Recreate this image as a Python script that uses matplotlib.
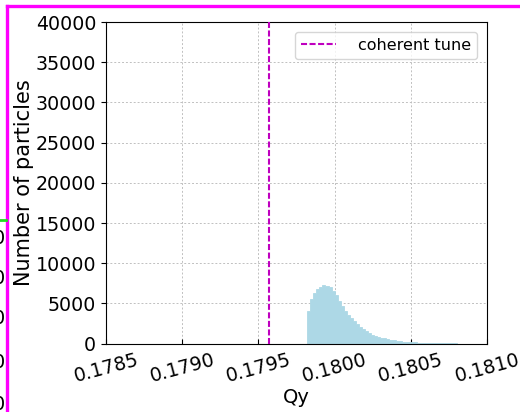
import matplotlib
matplotlib.use("Agg")
import matplotlib.pyplot as plt
from matplotlib.lines import Line2D
import numpy as np

# Histogram of vertical tune Qy: bin edges and particle counts per bin
bin_start = 0.17982
bin_width = 0.00002
counts = [
    4000, 5500, 6300, 6800, 7100, 7250, 7200, 7000, 6550, 6000,
    5250, 4650, 4100, 3600, 3150, 2800, 2400, 2100, 1800, 1550,
    1300, 1130, 980, 860, 750, 650, 550, 470, 400, 340,
    290, 250, 215, 185, 160, 140, 120, 105, 92, 80,
    70, 62, 55, 48, 42, 36, 30, 24, 18,
]
coherent_tune = 0.179568

x_ticks = [0.1785, 0.1790, 0.1795, 0.1800, 0.1805, 0.1810]
y_ticks = [0, 5000, 10000, 15000, 20000, 25000, 30000, 35000, 40000]

edges = bin_start + bin_width * np.arange(len(counts) + 1)

fig = plt.figure(figsize=(5.2, 4.12), dpi=100)
ax = fig.add_axes([0.204, 0.166, 0.7325, 0.7806])

ax.stairs(counts, edges, fill=True, facecolor="lightblue",
          edgecolor="lightblue", linewidth=0.6, zorder=2)
ax.axvline(coherent_tune, color="m", linestyle=(0, (2.9, 1.2)), linewidth=1.5,
           label="coherent tune", zorder=3)

ax.set_xlim(x_ticks[0], x_ticks[-1])
ax.set_ylim(y_ticks[0], y_ticks[-1])
ax.set_xticks(x_ticks)
ax.set_xticklabels([f"{v:.4f}" for v in x_ticks], rotation=15)
ax.set_yticks(y_ticks)
ax.tick_params(axis="x", direction="in", labelsize=13.7, pad=5)
ax.tick_params(axis="y", direction="out", labelsize=13.7)
ax.grid(True, color="#c0c0c0", linestyle=(0, (2, 2)), linewidth=0.7, zorder=0)
ax.set_axisbelow(True)

ax.set_xlabel("Qy", fontsize=14, labelpad=1)
ax.set_ylabel("Number of particles", fontsize=15, labelpad=1)
ax.legend(loc="upper right", fontsize=11.5, handlelength=2.15,
          handletextpad=1.4, borderaxespad=0.6)

# Frame lines and clipped labels of the neighbouring panel
fig.add_artist(Line2D([6.5 / 520, 1.0], [1 - 5.5 / 412, 1 - 5.5 / 412],
                      color="#ff00ff", linewidth=2.4, transform=fig.transFigure))
fig.add_artist(Line2D([7 / 520, 7 / 520], [0.0, 1 - 5.5 / 412],
                      color="#ff00ff", linewidth=2.4, transform=fig.transFigure))
fig.add_artist(Line2D([0.0, 6 / 520], [1 - 220 / 412, 1 - 220 / 412],
                      color="#22dd22", linewidth=2.0, transform=fig.transFigure))
for yp in [238, 278, 319, 362, 405]:
    fig.text(4.7 / 520, 1 - yp / 412, "0", fontsize=14, ha="right", va="center")

fig.savefig("out.png", dpi=100)
